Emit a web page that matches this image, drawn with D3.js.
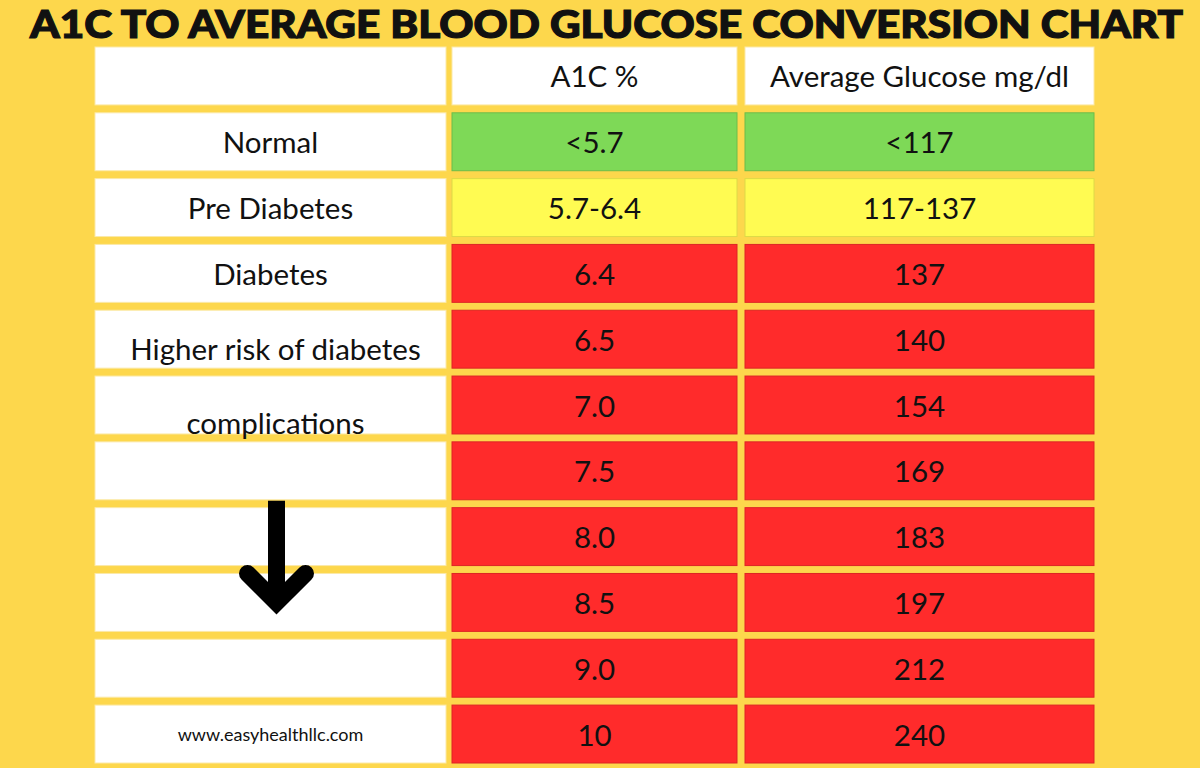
<!DOCTYPE html>
<html lang="en">
<head>
<meta charset="UTF-8">
<title>A1C to Average Blood Glucose Conversion Chart</title>
<script src="https://d3js.org/d3.v7.min.js"></script>
<style>
  body { margin: 0; background: #fdd74c; }
  svg { display: block; }
  text { font-family: Lato, "Open Sans", sans-serif; fill: #111; }
</style>
</head>
<body>
<div class="chart"></div>
<script>
  const w = 1200;
  const h = 768;

  // table content
  const headers = ["", "A1C %", "Average Glucose mg/dl"];
  const categories = ["Normal", "Pre Diabetes", "Diabetes", "Higher risk of diabetes", "complications", "", "", "", "", "www.easyhealthllc.com"];
  const a1c = ["<5.7", "5.7-6.4", "6.4", "6.5", "7.0", "7.5", "8.0", "8.5", "9.0", "10"];
  const glucose = ["<117", "117-137", "137", "140", "154", "169", "183", "197", "212", "240"];
  const levels = ["normal", "pre", "diabetes", "diabetes", "diabetes", "diabetes", "diabetes", "diabetes", "diabetes", "diabetes"];

  const levelColor = d3.scaleOrdinal()
    .domain(["normal", "pre", "diabetes"])
    .range(["#7ed957", "#fffb52", "#ff2b2b"]);

  // rows: header + data rows
  const yScale = d3.scaleBand()
    .domain(d3.range(categories.length + 1))
    .range([47, 763])
    .paddingInner(0.12);

  // columns have different widths, so map them explicitly
  const colLeft = d3.scaleOrdinal().domain([0, 1, 2]).range([95, 452, 745]);
  const colWidth = d3.scaleOrdinal().domain([0, 1, 2]).range([351, 285, 349]);

  const svg = d3.select(".chart")
    .append("svg")
    .attr("width", w)
    .attr("height", h);

  svg.append("rect")
    .attr("width", w)
    .attr("height", h)
    .attr("fill", "#fdd74c");

  // title
  svg.append("text")
    .attr("x", 30)
    .attr("y", 38)
    .attr("textLength", 1153)
    .attr("lengthAdjust", "spacingAndGlyphs")
    .style("font-size", "38px")
    .style("font-weight", 900)
    .style("stroke", "#111")
    .style("stroke-width", 1.2)
    .text("A1C TO AVERAGE BLOOD GLUCOSE CONVERSION CHART");

  // build cell list
  const cells = [];
  headers.forEach((t, c) => cells.push({ row: 0, col: c, text: t, fill: "#ffffff" }));
  categories.forEach((t, i) => {
    cells.push({ row: i + 1, col: 0, text: t, fill: "#ffffff" });
    cells.push({ row: i + 1, col: 1, text: a1c[i], fill: levelColor(levels[i]) });
    cells.push({ row: i + 1, col: 2, text: glucose[i], fill: levelColor(levels[i]) });
  });

  const g = svg.append("g");

  g.selectAll("rect.cell")
    .data(cells)
    .join("rect")
    .attr("class", "cell")
    .attr("x", d => colLeft(d.col))
    .attr("y", d => yScale(d.row))
    .attr("width", d => colWidth(d.col))
    .attr("height", yScale.bandwidth())
    .attr("fill", d => d.fill)
    .attr("stroke", d => d.fill === "#ffffff" ? "#fbe9a8" : d3.color(d.fill).darker(0.4))
    .attr("stroke-width", 1);

  // the two-line label in column 1 sits a little low in its rows
  const labelNudge = { 4: 9, 5: 17 };

  g.selectAll("text.cell-label")
    .data(cells.filter(d => d.text))
    .join("text")
    .attr("class", "cell-label")
    .attr("x", d => colLeft(d.col) + colWidth(d.col) / 2 + (d.col === 0 && labelNudge[d.row] ? 5 : 0))
    .attr("y", d => yScale(d.row) + yScale.bandwidth() / 2 + (d.col === 0 ? (labelNudge[d.row] || 0) : 0))
    .attr("text-anchor", "middle")
    .attr("dominant-baseline", "central")
    .style("font-size", d => d.text.startsWith("www") ? "18px" : "29.5px")
    .text(d => d.text);

  // down arrow in the first column, from the 8.0 row into the 8.5 row
  const ax = colLeft(0) + colWidth(0) / 2 + 6;
  const arrowTop = yScale(7) - 7;
  const arrowTip = yScale(8) + 29;
  svg.append("path")
    .attr("d", `M${ax},${arrowTop}V${arrowTip}`)
    .attr("stroke", "#000")
    .attr("stroke-width", 17)
    .attr("fill", "none");
  svg.append("path")
    .attr("d", `M${ax - 29},${arrowTip - 29}L${ax},${arrowTip}L${ax + 29},${arrowTip - 29}`)
    .attr("stroke", "#000")
    .attr("stroke-width", 17)
    .attr("stroke-linejoin", "miter")
    .attr("stroke-linecap", "round")
    .attr("fill", "none");
</script>
</body>
</html>
